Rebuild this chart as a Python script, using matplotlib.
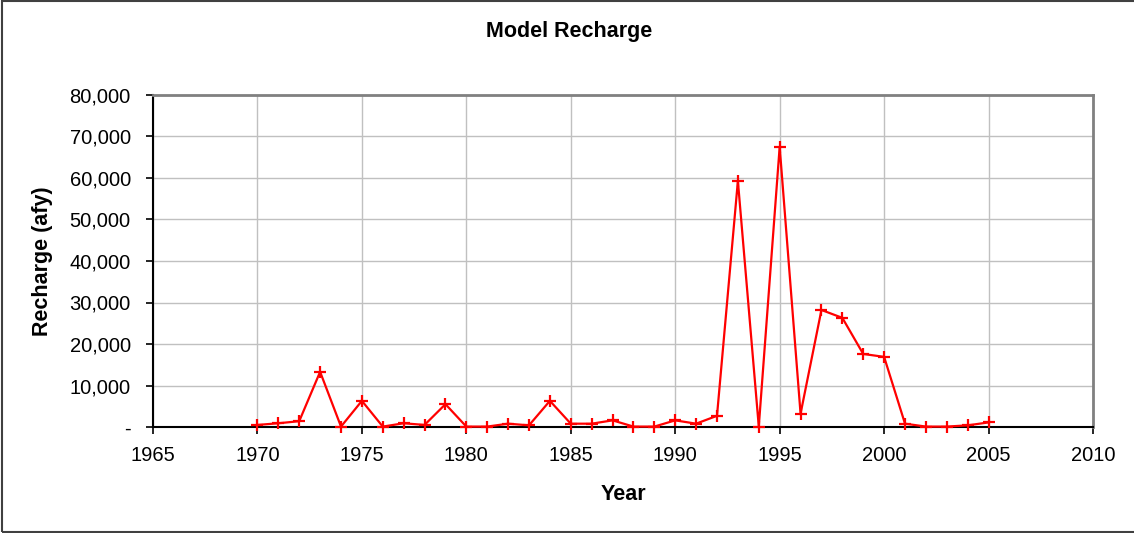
import matplotlib
matplotlib.use("Agg")
import matplotlib.pyplot as plt
from matplotlib.ticker import FuncFormatter, MultipleLocator
from matplotlib.patches import Rectangle

years = list(range(1970, 2006))
recharge = [500, 900, 1400, 13300, 100, 6300, 100, 900, 500, 5500,
            100, 100, 800, 400, 6300, 800, 800, 1600, 100, 100,
            1600, 800, 2700, 59300, 100, 67500, 3200, 28200, 26300, 17600,
            16900, 800, 100, 100, 400, 1100]

plt.rcParams['font.family'] = ['Liberation Sans', 'DejaVu Sans']

fig = plt.figure(figsize=(11.34, 5.33), dpi=100)
ax = fig.add_axes([153/1134, 106/533, 940/1134, 332/533])

ax.plot(years, recharge, color='#ff0000', lw=1.6, marker='+', ms=8.5, mew=1.6, zorder=3, clip_on=False)

ax.set_xlim(1965, 2010)
ax.set_ylim(0, 80000)
ax.xaxis.set_major_locator(MultipleLocator(5))
ax.yaxis.set_major_locator(MultipleLocator(10000))
ax.yaxis.set_major_formatter(FuncFormatter(lambda v, p: '-' if v == 0 else f'{int(v):,}'))
ax.grid(True, color='#c0c0c0', lw=1.0)
ax.set_axisbelow(True)
ax.tick_params(axis='both', direction='out', length=5, width=1.2, labelsize=14.5, colors='black')
ax.tick_params(axis='x', pad=9)
ax.tick_params(axis='y', pad=11)
for s in ['top', 'right']:
    ax.spines[s].set_color('#808080')
    ax.spines[s].set_linewidth(2)
for s in ['left', 'bottom']:
    ax.spines[s].set_color('black')
    ax.spines[s].set_linewidth(1.5)

ax.set_xlabel('Year', fontsize=15.5, fontweight='bold', labelpad=13)
ax.set_ylabel('Recharge (afy)', fontsize=15.5, fontweight='bold', labelpad=12)
fig.text(569/1134, 1 - 31/533, 'Model Recharge', ha='center', va='center', fontsize=15.5, fontweight='bold')

fig.patches.append(Rectangle((0.002, 0.002), 1.1, 0.996, transform=fig.transFigure,
                             fill=False, edgecolor='#404040', lw=1.5, clip_on=False))

fig.savefig('out.png', dpi=100)
